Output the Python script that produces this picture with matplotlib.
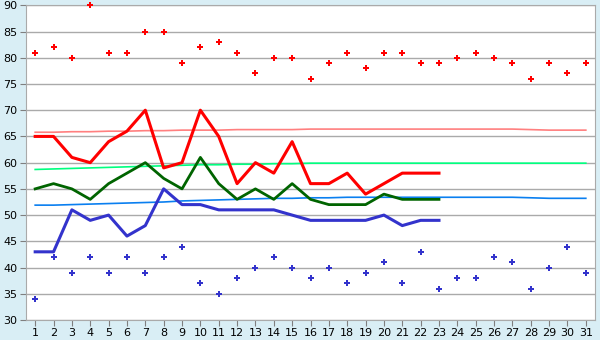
import matplotlib.pyplot as plt
import numpy as np

days = np.arange(1, 32)

# record highs / lows (markers)
rec_hi = [81, 82, 80, 90, 81, 81, 85, 85, 79, 82, 83, 81, 77, 80, 80, 76,
          79, 81, 78, 81, 81, 79, 79, 80, 81, 80, 79, 76, 79, 77, 79]
rec_lo = [34, 42, 39, 42, 39, 42, 39, 42, 44, 37, 35, 38, 40, 42, 40, 38,
          40, 37, 39, 41, 37, 43, 36, 38, 38, 42, 41, 36, 40, 44, 39]

# observed (days 1-23)
obs_days = np.arange(1, 24)
hi = [65, 65, 61, 60, 64, 66, 70, 59, 60, 70, 65, 56, 60, 58, 64, 56,
      56, 58, 54, 56, 58, 58, 58]
mean = [55, 56, 55, 53, 56, 58, 60, 57, 55, 61, 56, 53, 55, 53, 56, 53,
        52, 52, 52, 54, 53, 53, 53]
lo = [43, 43, 51, 49, 50, 46, 48, 55, 52, 52, 51, 51, 51, 51, 50, 49,
      49, 49, 49, 50, 48, 49, 49]

# normals
norm_hi = [65.8, 65.8, 65.9, 65.9, 66.0, 66.0, 66.1, 66.1, 66.2, 66.2, 66.2,
           66.3, 66.3, 66.3, 66.3, 66.4, 66.4, 66.4, 66.4, 66.4, 66.4, 66.4,
           66.4, 66.4, 66.4, 66.4, 66.4, 66.3, 66.2, 66.2, 66.2]
norm_mean = [58.7, 58.8, 58.9, 59.0, 59.1, 59.2, 59.3, 59.4, 59.5, 59.6, 59.6,
             59.7, 59.7, 59.8, 59.8, 59.9, 59.9, 59.9, 59.9, 59.9, 59.9, 59.9,
             59.9, 59.9, 59.9, 59.9, 59.9, 59.9, 59.9, 59.9, 59.9]
norm_lo = [51.9, 51.9, 52.0, 52.1, 52.2, 52.3, 52.4, 52.5, 52.7, 52.8, 52.9,
           53.0, 53.1, 53.2, 53.2, 53.3, 53.3, 53.4, 53.4, 53.4, 53.4, 53.4,
           53.4, 53.4, 53.4, 53.4, 53.4, 53.3, 53.2, 53.2, 53.2]

fig = plt.figure(figsize=(6, 3.4), dpi=100, facecolor='#d9eef5')
ax = fig.add_axes([26/600, 1-320/340, 569/600, 314.7/340])
ax.set_facecolor('white')

ax.plot(days, norm_hi, color='#ff7f7f', lw=1.2, zorder=2)
ax.plot(days, norm_mean, color='#00ff7f', lw=1.2, zorder=2)
ax.plot(days, norm_lo, color='#0a7ff0', lw=1.2, zorder=2)

ax.plot(obs_days, hi, color='#ff0000', lw=2.2, zorder=3)
ax.plot(obs_days, mean, color='#006400', lw=2.0, zorder=3)
ax.plot(obs_days, lo, color='#3333cc', lw=2.2, zorder=3)

ax.plot(days, rec_hi, ls='none', marker='P', ms=5, color='#ff0000', mew=0,
        zorder=4, clip_on=False)
ax.plot(days, rec_lo, ls='none', marker='P', ms=5, color='#3333cc', mew=0,
        zorder=4, clip_on=False)

ax.set_xlim(0.5, 31.5)
ax.set_ylim(30, 90)
ax.set_xticks(days)
ax.set_yticks(np.arange(30, 91, 5))
ax.yaxis.grid(True, color='#aaaaaa', lw=1)
ax.set_axisbelow(True)
ax.tick_params(axis='both', labelsize=8, length=4, color='#7f7f7f', pad=2)
for s in ax.spines.values():
    s.set_color('#aaaaaa')

fig.savefig('out.png', dpi=100, facecolor=fig.get_facecolor())
